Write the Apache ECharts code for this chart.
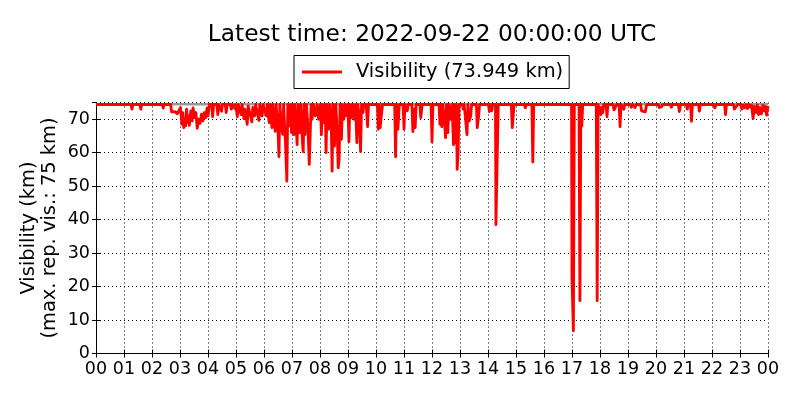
<!DOCTYPE html>
<html><head><meta charset="utf-8">
<script src="https://cdn.jsdelivr.net/npm/echarts@6/dist/echarts.min.js"></script>
<style>html,body{margin:0;padding:0;background:#fff}#c{width:800px;height:400px}</style>
</head><body><div id="c"></div>
<script>
const titleText = 'Latest time: 2022-09-22 00:00:00 UTC';
const yAxisTitle = 'Visibility (km)\n(max. rep. vis.: 75 km)';
const hourLabels = ['00','01','02','03','04','05','06','07','08','09','10','11','12','13','14','15','16','17','18','19','20','21','22','23','00'];
const yMax = 75;

// observation times (HH:MM) and visibility (km)
const times = [
 '00:00',
 '01:15','01:17','01:19','01:34','01:36','01:38',
 '02:22','02:24','02:26','02:40','02:42','02:46','02:50','02:54','02:58',
 '03:01','03:04','03:06','03:08','03:10','03:12','03:14','03:16','03:18','03:20','03:23','03:26','03:28','03:31','03:34','03:37','03:40','03:43','03:46','03:49','03:52','03:55','03:58',
 '04:00','04:03','04:08','04:10','04:12','04:19','04:21','04:23','04:27','04:29','04:31','04:37','04:39','04:41','04:48','04:50','04:52','04:55','04:57','04:59',
 '05:03','05:05','05:11','05:13','05:17','05:19','05:24','05:26','05:34','05:36','05:40','05:42','05:49','05:51','05:56','05:58',
 '06:02','06:05','06:07','06:11','06:13','06:17','06:19','06:24','06:26','06:30','06:32','06:34','06:37','06:40','06:42','06:46','06:49','06:51','06:54','06:57','06:59',
 '07:01','07:04','07:06','07:09','07:11','07:13','07:16','07:19','07:22','07:24','07:26','07:28','07:31','07:34','07:37','07:39','07:41','07:43','07:46','07:50','07:54','07:57',
 '08:01','08:03','08:05','08:08','08:11','08:13','08:15','08:18','08:21','08:24','08:26','08:28','08:31','08:34','08:37','08:39','08:41','08:43','08:46','08:48','08:51','08:54','08:57',
 '09:00','09:02','09:04','09:07','09:10','09:13','09:16','09:19','09:21','09:24','09:27','09:29','09:32','09:34','09:39','09:42','09:44',
 '10:03','10:05','10:07','10:09','10:11','10:14','10:40','10:42','10:44','10:47','10:50','10:58',
 '11:00','11:02','11:05','11:07','11:09','11:17','11:19','11:22','11:24','11:26','11:34','11:36','11:39','11:58',
 '12:00','12:02','12:15','12:17','12:19','12:21','12:23','12:26','12:29','12:31','12:34','12:36','12:40','12:43','12:46','12:48','12:50','12:52','12:54','12:56','12:58',
 '13:05','13:07','13:09','13:13','13:15','13:17','13:20','13:23','13:25','13:35','13:37','13:40','13:42',
 '14:01','14:03','14:05','14:08','14:10','14:16','14:17','14:19','14:21','14:22','14:50','14:52','14:54','14:56',
 '15:18','15:20','15:22','15:34','15:36','15:38',
 '16:30','16:59',
 '17:00','17:02','17:03','17:05','17:15','17:17','17:19','17:21','17:23','17:52','17:54','17:56',
 '18:00','18:02','18:04','18:06','18:08','18:13','18:15','18:17','18:28','18:30','18:34','18:36','18:41','18:43','18:45','18:51','18:53',
 '19:05','19:07','19:10','19:15','19:18','19:27','19:29','19:33','19:37','19:40',
 '20:05','20:07','20:12','20:14','20:31','20:33','20:35','20:48','20:50','20:53',
 '21:05','21:07','21:09','21:14','21:16','21:18','21:31','21:33','21:35',
 '22:04','22:06','22:09','22:27','22:29','22:31','22:46','22:48','22:52','22:55',
 '23:02','23:04','23:07','23:10','23:13','23:16','23:19','23:22','23:25','23:28','23:31','23:34','23:37','23:40','23:43','23:46','23:49','23:52','23:55','23:57','24:00'
];
const visibility = [
 74.4,
 74.4,73.0,74.4,74.4,73.0,74.4,
 74.4,73.3,74.4,74.4,72.2,71.8,72.3,71.6,72.0,
 73.5,68.5,72.0,67.5,70.0,68.0,73.0,69.0,71.0,68.2,72.5,69.5,73.4,70.5,72.0,67.3,70.0,68.8,71.5,69.5,72.0,70.5,73.4,
 71.0,74.4,74.4,70.8,74.4,74.4,71.4,74.4,74.4,72.4,74.4,74.4,72.0,74.4,74.4,73.0,74.4,74.4,73.3,74.4,
 70.8,74.4,71.4,74.4,70.2,73.0,68.5,74.0,69.2,73.5,71.0,74.4,69.6,74.4,71.0,74.4,
 74.4,71.0,74.4,69.0,74.4,67.5,74.4,66.4,74.4,67.0,58.8,74.4,68.5,65.5,74.4,63.0,51.5,74.4,68.0,74.4,66.0,
 74.4,65.4,74.4,68.0,62.4,74.4,66.0,74.4,64.0,60.3,74.4,65.4,74.4,68.0,56.5,56.0,74.4,70.0,74.4,71.0,74.4,70.0,
 74.4,65.4,74.4,69.0,74.4,60.0,74.4,67.0,74.4,69.0,54.5,74.4,62.0,74.4,66.0,55.5,58.0,74.4,64.0,74.4,70.0,74.4,71.0,
 74.4,63.3,74.4,70.5,74.4,70.0,74.4,63.0,74.4,71.0,60.3,74.4,72.0,74.4,74.4,67.8,74.4,
 74.4,67.0,74.4,67.5,70.5,74.4,74.4,58.8,74.4,67.0,74.4,74.4,
 67.0,74.4,74.4,72.5,74.4,74.4,66.3,73.0,67.5,74.4,74.4,70.5,74.4,74.4,
 63.2,74.4,74.4,68.5,74.4,67.8,74.4,71.0,64.5,74.4,66.0,74.4,70.0,74.4,62.4,74.4,63.0,74.4,55.0,60.0,74.4,
 74.4,73.0,74.4,74.4,65.4,74.4,69.5,71.0,74.4,74.4,67.5,71.0,74.4,
 74.4,72.3,74.4,72.5,74.4,74.4,38.5,53.0,52.8,74.4,74.4,67.5,67.8,74.4,
 74.4,73.4,74.4,74.4,57.2,74.4,
 74.4,74.4,
 22.0,22.5,6.8,74.4,74.4,15.8,74.4,68.0,74.4,74.4,15.8,74.4,
 72.0,71.4,73.5,72.0,74.4,74.4,70.8,74.4,74.4,72.8,73.0,74.4,74.4,67.8,74.4,73.0,74.4,
 74.4,73.6,74.4,73.5,74.4,74.4,72.5,73.0,72.2,74.4,
 74.4,73.5,73.7,74.4,74.4,73.6,74.4,74.4,72.3,74.4,
 74.4,73.0,74.4,74.4,69.4,74.4,74.4,72.4,74.4,
 74.4,73.4,74.4,74.4,71.4,74.4,74.4,73.0,73.5,74.4,
 74.4,73.0,74.2,73.4,74.4,73.2,74.4,73.6,74.2,70.2,73.8,72.0,74.3,71.4,73.5,71.6,74.2,72.5,73.8,71.2,73.949
];
// grey reference line (max. reported visibility level)
const refTimes = ['00:00', '24:00'];
const refValues = [74.5, 74.5];

const toMin = s => { const p = s.split(':'); return (+p[0]) * 60 + (+p[1]); };
const visData = times.map((t, i) => [toMin(t), visibility[i]]);
const refData = refTimes.map((t, i) => [toMin(t), refValues[i]]);
const latest = visibility[visibility.length - 1];
const seriesName = 'Visibility (' + latest.toFixed(3) + ' km)';

const FONT = 'DejaVu Sans';
const FS = 19.44;
const TICK_FS = 17.5;
const chart = echarts.init(document.getElementById('c'), null, {renderer: 'canvas'});
const xBase = {
  type: 'value', min: 0, max: 1440, interval: 60,
  axisLine: {show: true, lineStyle: {color: '#000', width: 1}},
  axisTick: {show: true, inside: true, length: 4, lineStyle: {color: '#000'}},
};
const yBase = {
  type: 'value', min: 0, max: yMax, interval: 10,
  axisLine: {show: true, lineStyle: {color: '#000', width: 1}},
  axisTick: {show: true, inside: true, length: 4, lineStyle: {color: '#000'}},
};
chart.setOption({
  animation: false,
  backgroundColor: '#fff',
  graphic: [{
    type: 'text', x: 432, y: 35,
    style: {text: titleText, fontFamily: FONT, fontSize: 23.3, fill: '#000', textAlign: 'center', textVerticalAlign: 'middle'}
  }],
  legend: {
    left: 294, top: 55.5,
    padding: [7, 6, 7, 8],
    borderColor: '#000', borderWidth: 1, borderRadius: 0,
    itemWidth: 40, itemHeight: 3,
    textStyle: {fontFamily: FONT, fontSize: FS, color: '#000', padding: [0, 0, 0, 9]},
    data: [{name: seriesName, icon: 'rect'}]
  },
  grid: {left: 96, right: 32, top: 102.5, bottom: 46.5, show: false},
  xAxis: [
    Object.assign({}, xBase, {
      position: 'bottom',
      axisLabel: {show: true, margin: 7, fontFamily: FONT, fontSize: TICK_FS, color: '#000',
        formatter: v => hourLabels[Math.round(v / 60)]},
      splitLine: {show: true, lineStyle: {color: '#000', width: 1, type: [1, 3]}}
    }),
    Object.assign({}, xBase, {
      position: 'top', axisLabel: {show: false}, splitLine: {show: false}
    })
  ],
  yAxis: [
    Object.assign({}, yBase, {
      position: 'left',
      name: yAxisTitle, nameLocation: 'middle', nameRotate: 90, nameGap: 36,
      nameMoveOverlap: false,
      nameTextStyle: {fontFamily: FONT, fontSize: FS, color: '#000', lineHeight: 21},
      axisLabel: {show: true, margin: 6, fontFamily: FONT, fontSize: TICK_FS, color: '#000', showMaxLabel: false},
      splitLine: {show: true, lineStyle: {color: '#000', width: 1, type: [1, 3]}}
    }),
    Object.assign({}, yBase, {
      position: 'right', axisLabel: {show: false}, splitLine: {show: false}
    })
  ],
  series: [
    {
      type: 'line', name: 'maxref', data: refData, silent: true,
      symbol: 'none', lineStyle: {color: '#999', width: 2.5}, z: 1
    },
    {
      type: 'line', name: seriesName, data: visData,
      symbol: 'none', showSymbol: false,
      color: '#ff0000',
      lineStyle: {color: '#ff0000', width: 2.8, join: 'round'}, z: 2
    }
  ]
});
</script>
</body></html>
